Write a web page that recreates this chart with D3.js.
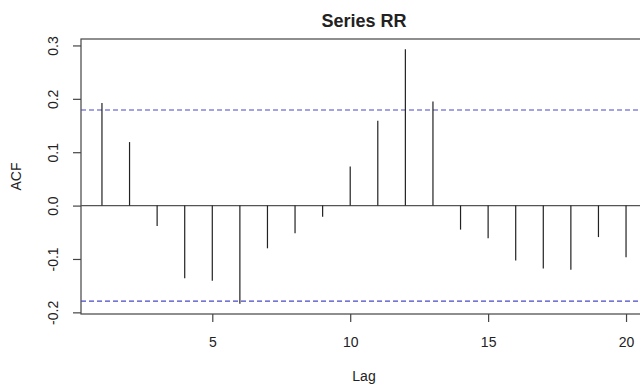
<!DOCTYPE html>
<html>
<head>
<meta charset="utf-8">
<script src="https://cdn.jsdelivr.net/npm/d3@7"></script>
<style>
   body { margin: 0; background: #fff; }
   #chart { width: 640px; height: 385px; }
   text { font-family: "Liberation Sans", Arial, sans-serif; fill: #222; }
</style>
</head>
<body>
<div id="chart"></div>
<script>
// ACF values per lag
const lags = [1, 2, 3, 4, 5, 6, 7, 8, 9, 10, 11, 12, 13, 14, 15, 16, 17, 18, 19, 20];
const acfValues = [0.192, 0.119, -0.038, -0.136, -0.141, -0.184, -0.080, -0.052, -0.021, 0.073,
   0.159, 0.293, 0.195, -0.045, -0.061, -0.103, -0.118, -0.120, -0.059, -0.097];
const confLimit = 0.179;
const xTicks = [5, 10, 15, 20];
const yTicks = [-0.2, -0.1, 0.0, 0.1, 0.2, 0.3];
const title = "Series RR";
const xLabel = "Lag";
const yLabel = "ACF";

const chart = {
   width: 640,
   height: 385,
   margin: { top: 39, right: -7, bottom: 71, left: 81 }
};
chart.innerWidth = chart.width - chart.margin.left - chart.margin.right;
chart.innerHeight = chart.height - chart.margin.top - chart.margin.bottom;

// R style range: data extended by 4% on both sides
const extend = (lo, hi) => {
   const pad = (hi - lo) * 0.04;
   return [lo - pad, hi + pad];
};
const xDomain = extend(d3.min(lags), d3.max(lags));
const yDomain = extend(
   Math.min(d3.min(acfValues), -confLimit),
   Math.max(d3.max(acfValues), confLimit)
);

const xScale = d3.scaleLinear().domain(xDomain).range([0, chart.innerWidth]);
const yScale = d3.scaleLinear().domain(yDomain).range([chart.innerHeight, 0]);

const svg = d3.select("#chart").append("svg")
   .attr("width", chart.width)
   .attr("height", chart.height);

const g = svg.append("g")
   .attr("transform", "translate(" + chart.margin.left + "," + chart.margin.top + ")");

// Plot box
g.append("rect")
   .attr("x", 0)
   .attr("y", 0)
   .attr("width", chart.innerWidth)
   .attr("height", chart.innerHeight)
   .attr("fill", "none")
   .attr("stroke", "#444")
   .attr("stroke-width", 1.2);

// Bottom axis
const xAxis = g.append("g")
   .attr("transform", "translate(0," + chart.innerHeight + ")")
   .call(d3.axisBottom(xScale).tickValues(xTicks).tickSize(8).tickFormat(d3.format("d")));
xAxis.select(".domain").remove();
xAxis.selectAll(".tick line").attr("stroke", "#444").attr("stroke-width", 1.2);
xAxis.selectAll(".tick text")
   .attr("y", 33)
   .attr("dy", 0)
   .attr("font-size", 14)
   .attr("font-family", "Liberation Sans, Arial, sans-serif")
   .attr("fill", "#222");

// Left axis with rotated labels
const yAxis = g.append("g")
   .call(d3.axisLeft(yScale).tickValues(yTicks).tickSize(8).tickFormat(d => d.toFixed(1)));
yAxis.select(".domain").remove();
yAxis.selectAll(".tick line").attr("stroke", "#444").attr("stroke-width", 1.2);
yAxis.selectAll(".tick text")
   .attr("transform", "rotate(-90)")
   .attr("x", 0)
   .attr("y", -23)
   .attr("dy", 0)
   .attr("text-anchor", "middle")
   .attr("font-size", 14)
   .attr("font-family", "Liberation Sans, Arial, sans-serif")
   .attr("fill", "#222");

// Zero line
g.append("line")
   .attr("x1", 0)
   .attr("x2", chart.innerWidth)
   .attr("y1", yScale(0))
   .attr("y2", yScale(0))
   .attr("stroke", "#555")
   .attr("stroke-width", 1.2);

// Confidence bounds
g.selectAll(".conf")
   .data([confLimit, -confLimit])
   .enter()
   .append("line")
   .attr("class", "conf")
   .attr("x1", 0)
   .attr("x2", chart.innerWidth)
   .attr("y1", d => yScale(d))
   .attr("y2", d => yScale(d))
   .attr("stroke", "#4848c8")
   .attr("stroke-width", 1.1)
   .attr("stroke-dasharray", "5,3");

// ACF spikes
g.selectAll(".spike")
   .data(lags.map((lag, i) => ({ lag: lag, value: acfValues[i] })))
   .enter()
   .append("line")
   .attr("class", "spike")
   .attr("x1", d => xScale(d.lag))
   .attr("x2", d => xScale(d.lag))
   .attr("y1", yScale(0))
   .attr("y2", d => yScale(d.value))
   .attr("stroke", "#222")
   .attr("stroke-width", 1.2);

// Titles
const centerX = chart.margin.left + chart.innerWidth / 2;
svg.append("text")
   .attr("x", centerX)
   .attr("y", 27)
   .attr("text-anchor", "middle")
   .attr("font-size", 18)
   .attr("font-weight", "bold")
   .text(title);

svg.append("text")
   .attr("x", centerX)
   .attr("y", 381)
   .attr("text-anchor", "middle")
   .attr("font-size", 14)
   .text(xLabel);

svg.append("text")
   .attr("transform", "translate(21," + (chart.margin.top + chart.innerHeight / 2) + ") rotate(-90)")
   .attr("text-anchor", "middle")
   .attr("font-size", 14)
   .text(yLabel);
</script>
</body>
</html>
